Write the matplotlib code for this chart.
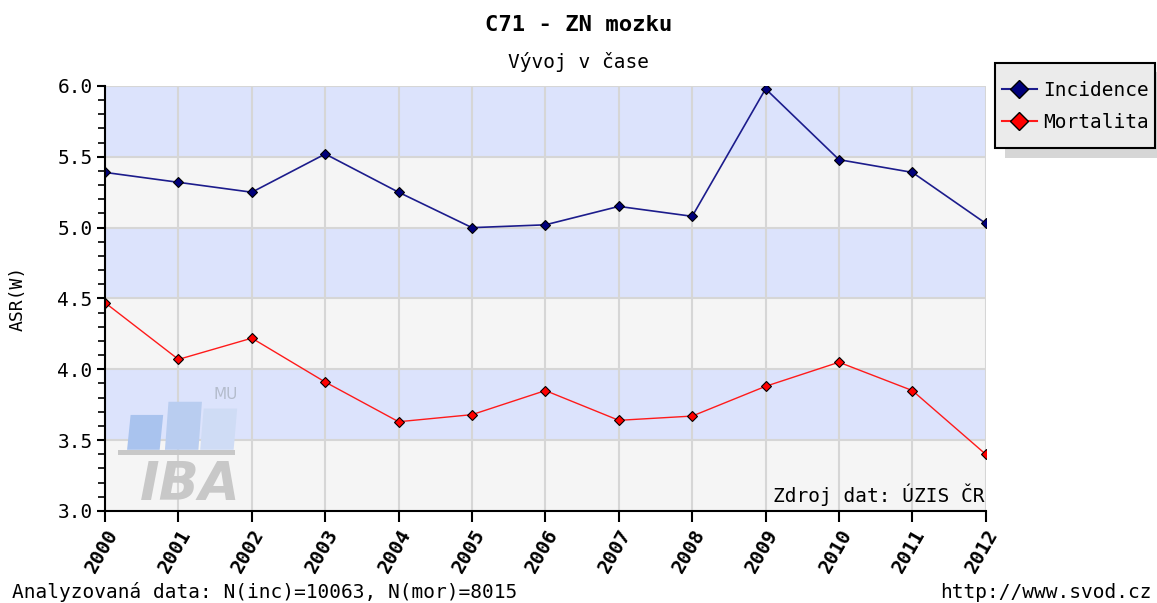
import matplotlib.pyplot as plt
from matplotlib.lines import Line2D
from matplotlib.patches import Rectangle, Polygon

# data
years = ['2000', '2001', '2002', '2003', '2004', '2005', '2006',
         '2007', '2008', '2009', '2010', '2011', '2012']
incidence = [5.39, 5.32, 5.25, 5.52, 5.25, 5.00, 5.02, 5.15, 5.08, 5.98, 5.48, 5.39, 5.03]
mortalita = [4.47, 4.07, 4.22, 3.91, 3.63, 3.68, 3.85, 3.64, 3.67, 3.88, 4.05, 3.85, 3.40]
band_edges = [3.0, 3.5, 4.0, 4.5, 5.0, 5.5, 6.0]

font = 'DejaVu Sans Mono'
plt.rcParams['font.family'] = font

W, H = 1157, 603
fig = plt.figure(figsize=(W / 100, H / 100), dpi=100)
ax = fig.add_axes([0.0908, 0.1526, 0.7612, 0.7048])
x = list(range(len(years)))

# alternating background bands
for i in range(len(band_edges) - 1):
    col = '#f5f5f5' if i % 2 == 0 else '#dce3fc'
    ax.axhspan(band_edges[i], band_edges[i + 1], color=col, zorder=0, lw=0)
for b in band_edges:
    ax.axhline(b, color='#d6d6d6', lw=1.5, zorder=1)
for xi in x:
    ax.axvline(xi, color='#d6d6d6', lw=1.5, zorder=1)

# IBA watermark
tr = ax.transAxes
for (x0, y0, w, h, c) in [(0.025, 0.144, 0.041, 0.082, '#a9c3ee'),
                          (0.068, 0.144, 0.042, 0.113, '#b9cdf0'),
                          (0.108, 0.144, 0.042, 0.097, '#cfdcf5')]:
    ax.add_patch(Polygon([(x0, y0), (x0 + 0.004, y0 + h), (x0 + w, y0 + h), (x0 + w - 0.004, y0)],
                         closed=True, transform=tr, color=c, zorder=1.5, lw=0))
ax.add_patch(Rectangle((0.015, 0.132), 0.133, 0.011, transform=tr, color='#c8c8c8', zorder=1.5, lw=0))
ax.text(0.0965, 0.026, 'IBA', transform=tr, fontsize=38, fontweight='bold', style='italic',
        family='DejaVu Sans', color='#c8c8c8', ha='center', va='baseline', zorder=1.5)
ax.text(0.137, 0.273, 'MU', transform=tr, fontsize=11, family='DejaVu Sans',
        color='#b4bccc', ha='center', va='center', zorder=1.5)

ax.plot(x, incidence, color='#1c1c8c', lw=1.2, marker='D', markersize=5,
        markerfacecolor='#00007a', markeredgecolor='black', markeredgewidth=0.8, zorder=3)
ax.plot(x, mortalita, color='#ff1a1a', lw=1.0, marker='D', markersize=5,
        markerfacecolor='#ff0000', markeredgecolor='black', markeredgewidth=0.8, zorder=3)

ax.set_xlim(0, len(years) - 1)
ax.set_ylim(3.0, 6.0)
ax.set_xticks(x)
ax.set_xticklabels(years, rotation=60, ha='right', va='top', rotation_mode='anchor',
                   fontsize=14, fontweight='bold')
ax.set_yticks(band_edges)
ax.set_yticklabels(['%.1f' % v for v in band_edges], fontsize=14)
ax.set_yticks([3.0 + 0.1 * i for i in range(31)], minor=True)
ax.tick_params(axis='x', which='major', length=8, width=1.5, color='black', pad=3)
ax.tick_params(axis='y', which='major', length=6, width=1.5, color='black', pad=3)
ax.tick_params(axis='y', which='minor', length=5, width=1.2)
ax.tick_params(axis='x', which='minor', length=0)
for s in ['top', 'right']:
    ax.spines[s].set_visible(False)
for s in ['left', 'bottom']:
    ax.spines[s].set_linewidth(1.5)
    ax.spines[s].set_zorder(4)
ax.set_ylabel('ASR(W)', fontsize=13, labelpad=22)

ax.text(0.998, 0.012, 'Zdroj dat: ÚZIS ČR', transform=tr, fontsize=14,
        ha='right', va='bottom', zorder=5)

fig.text(0.5, 0.958, 'C71 - ZN mozku', ha='center', va='center', fontsize=16, fontweight='bold')
fig.text(0.5, 0.898, 'Vývoj v čase', ha='center', va='center', fontsize=14)
fig.text(0.01, 0.018, 'Analyzovaná data: N(inc)=10063, N(mor)=8015', ha='left', va='center', fontsize=14)
fig.text(0.995, 0.018, 'http://www.svod.cz', ha='right', va='center', fontsize=14)

# legend box with shadow
fig.patches.append(Rectangle((1005 / W, 1 - 158 / H), 160 / W, 86 / H,
                             transform=fig.transFigure, color='#d6d6d6', lw=0, zorder=1))
fig.patches.append(Rectangle((995 / W, 1 - 148 / H), 160 / W, 85 / H, transform=fig.transFigure,
                             facecolor='#ebebeb', edgecolor='black', lw=1.5, zorder=2))

handles = [Line2D([], [], color='#1c1c8c', marker='D', markersize=9, markerfacecolor='#00007a',
                  markeredgecolor='black'),
           Line2D([], [], color='#ff1a1a', marker='D', markersize=9, markerfacecolor='#ff0000',
                  markeredgecolor='black')]
leg = fig.legend(handles, ['Incidence', 'Mortalita'], loc='upper left',
                 bbox_to_anchor=(996 / W, 1 - 75 / H), fontsize=14, frameon=False,
                 handlelength=1.8, handletextpad=0.3,
                 borderaxespad=0., borderpad=0.3, labelspacing=0.69)
leg.set_zorder(5)

fig.savefig('out.png', dpi=100)
